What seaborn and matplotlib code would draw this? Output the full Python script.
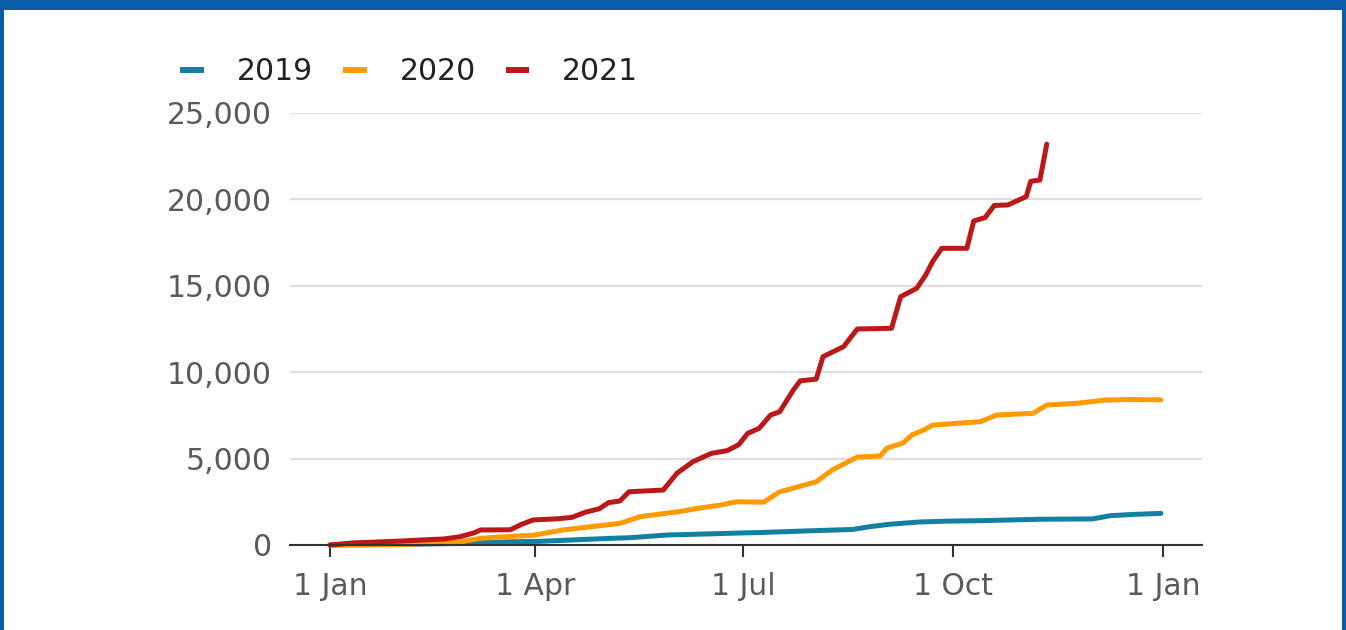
import matplotlib
matplotlib.use("Agg")
import matplotlib.pyplot as plt
import seaborn as sns
import pandas as pd
from matplotlib.patches import Rectangle
from matplotlib.lines import Line2D
from matplotlib.ticker import StrMethodFormatter

# Cumulative totals by day of year (day 0 = 1 Jan)
days_2019 = [0, 30, 60, 80, 91, 124, 131, 148, 160, 181, 188, 210, 229, 236, 245,
             258, 270, 286, 311, 334, 342, 352, 364]
cases_2019 = [0, 30, 100, 190, 210, 390, 420, 580, 620, 700, 720, 820, 900, 1050, 1200,
              1330, 1380, 1410, 1490, 1510, 1700, 1770, 1830]

days_2020 = [0, 30, 56, 66, 79, 89, 102, 117, 127, 136, 148, 153, 161, 171, 178, 190,
             197, 200, 213, 220, 231, 241, 244, 251, 255, 260, 264, 285, 292, 308, 314,
             327, 340, 352, 364]
cases_2020 = [0, 20, 150, 390, 500, 560, 870, 1100, 1250, 1640, 1850, 1930, 2120, 2310,
              2500, 2480, 3080, 3180, 3660, 4340, 5090, 5150, 5610, 5900, 6370, 6650, 6940,
              7140, 7520, 7620, 8100, 8200, 8390, 8420, 8400]

days_2021 = [0, 10, 20, 31, 40, 50, 57, 63, 66, 79, 84, 89, 100, 106, 112, 118, 122, 127,
             131, 146, 152, 159, 167, 174, 179, 183, 188, 193, 197, 203, 206, 213, 216,
             225, 231, 246, 250, 257, 261, 264, 268, 279, 282, 287, 291, 297, 305, 307,
             311, 314]
cases_2021 = [0, 120, 170, 230, 290, 350, 480, 700, 870, 880, 1200, 1450, 1520, 1600,
              1900, 2100, 2450, 2550, 3080, 3180, 4150, 4820, 5300, 5460, 5800, 6460,
              6750, 7520, 7710, 8970, 9500, 9600, 10900, 11480, 12500, 12540, 14370,
              14850, 15630, 16400, 17170, 17170, 18750, 18950, 19650, 19680, 20160,
              21050, 21120, 23200]

years = ["2019", "2020", "2021"]
colors = ["#1380A1", "#FF9A00", "#BB1919"]

xtick_days = [0, 90, 181, 273, 365]
xtick_labels = ["1 Jan", "1 Apr", "1 Jul", "1 Oct", "1 Jan"]
ytick_values = [0, 5000, 10000, 15000, 20000, 25000]

df = pd.concat([
    pd.DataFrame({"day": d, "cases": c, "year": y})
    for d, c, y in zip([days_2019, days_2020, days_2021],
                       [cases_2019, cases_2020, cases_2021], years)
], ignore_index=True)

sns.set_theme(style="white")
plt.rcParams["font.family"] = ["DejaVu Sans"]

W, H = 1346, 630
fig = plt.figure(figsize=(W / 100, H / 100), dpi=100)
fig.patch.set_facecolor("white")
ax = fig.add_axes([290 / W, 1 - 545 / H, (1202 - 290) / W, (545 - 113) / H])

palette = dict(zip(years, colors))
sns.lineplot(data=df, x="day", y="cases", hue="year", hue_order=years,
             palette=palette, estimator=None, sort=False, lw=3.6,
             legend=False, ax=ax)
for line in ax.lines:
    line.set_solid_joinstyle("round")
    line.set_clip_on(False)

ax.set_xlim(-17.5, 382)
ax.set_ylim(0, 25000)
ax.set_xticks(xtick_days, xtick_labels)
ax.set_yticks(ytick_values)
ax.yaxis.set_major_formatter(StrMethodFormatter("{x:,.0f}"))
ax.set_xlabel("")
ax.set_ylabel("")

ax.set_axisbelow(True)
ax.yaxis.grid(True, color="#dedede", lw=1.6)
ax.xaxis.grid(False)
for side in ["left", "right", "top"]:
    ax.spines[side].set_visible(False)
ax.spines["bottom"].set_color("#333333")
ax.spines["bottom"].set_linewidth(1.5)
ax.spines["bottom"].set_zorder(3)

ax.tick_params(axis="x", length=8.6, width=1.5, color="#333333", pad=11,
               labelsize=21.5, labelcolor="#5a5a5a", bottom=True)
ax.tick_params(axis="y", length=0, pad=13, labelsize=21.5, labelcolor="#5a5a5a")

handles = [Line2D([], [], color=c, lw=4.3, solid_capstyle="butt") for c in colors]
leg = fig.legend(handles, years, loc="center left",
                 bbox_to_anchor=(180 / W, 1 - 72 / H), ncol=3, frameon=False,
                 handlelength=0.8, handletextpad=1.1, columnspacing=1.0,
                 fontsize=21.5, borderaxespad=0, borderpad=0)
for t in leg.get_texts():
    t.set_color("#222222")

# Blue frame around the graphic
frame_blue = "#0B5CA8"
fig.add_artist(Rectangle((0, 1 - 10 / H), 1, 10 / H, transform=fig.transFigure,
                         color=frame_blue, lw=0))
fig.add_artist(Rectangle((0, 0), 4 / W, 1, transform=fig.transFigure,
                         color=frame_blue, lw=0))
fig.add_artist(Rectangle((1 - 4 / W, 0), 4 / W, 1, transform=fig.transFigure,
                         color=frame_blue, lw=0))

fig.savefig("out.png", dpi=100)
